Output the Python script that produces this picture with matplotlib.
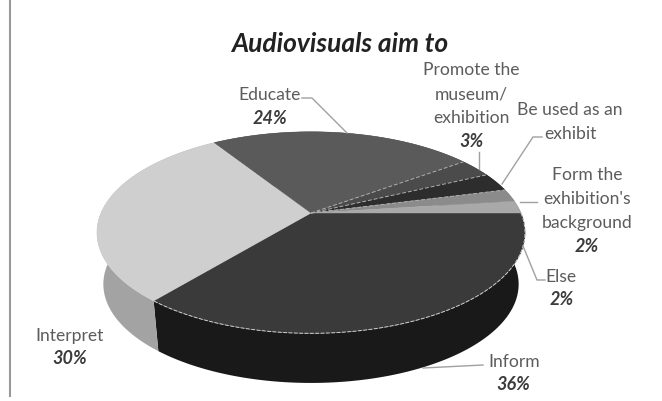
import numpy as np
import matplotlib.pyplot as plt

plt.rcParams['font.family'] = ['Lato', 'DejaVu Sans']

title = 'Audiovisuals aim to'

# clockwise from 3 o'clock
labels = ['Inform', 'Interpret', 'Educate', 'Promote the\nmuseum/\nexhibition', 'Be used as an\nexhibit',
          "Form the\nexhibition's\nbackground", 'Else']
values = [36, 30, 24, 3, 3, 2, 2]
show_pct = [True, True, True, True, False, True, True]

top_colors = ['#3a3a3a', '#cfcfcf', '#5a5a5a', '#4b4b4b', '#2d2d2d', '#8b8b8b', '#a9a9a9']
side_colors = ['#191919', '#a3a3a3', '#3a3a3a', '#333333', '#1e1e1e', '#5e5e5e', '#757575']

# label centre x, first line y, percent x, percent y
label_pos = [(514, 362, 513, 385), (70, 336, 70, 359), (270, 95, 270, 118), (471, 70, 471, 142),
             (570, 110, None, None), (587, 175, 587, 247), (561, 277, 562, 300)]
leaders = [[(423, 369), (483, 366)],
           [],
           [(302, 99), (312, 99), (347, 134)],
           [(479, 153), (479, 170)],
           [(502, 185), (533, 138), (542, 138)],
           [(520, 203), (537, 203)],
           [(523, 247), (537, 281), (545, 281)]]

# pie placement in pixels, the perspective factor k squeezes the far side
cx, cy = 311, 214
rx, ry = 210, 97
k = 0.194
depth = 52
line_gap = 24


def project(t, sx=1.0, sy=1.0):
    x = np.cos(t)
    y = np.sin(t)
    w = 1 + k * y
    return cx + sx * rx * x / w, cy - sy * ry * y / w


fig = plt.figure(figsize=(6.62, 4.02), dpi=100)
ax = fig.add_axes([0, 0, 1, 1])
ax.set_xlim(0, 662)
ax.set_ylim(402, 0)
ax.axis('off')

ax.plot([10, 10], [0, 397], color='#999999', lw=1.5)

edges = np.radians(-np.cumsum([0] + values) * 3.6)

# sides first, the top face covers the back part of them
for i in range(len(values)):
    t = np.linspace(edges[i], edges[i + 1], 120)
    x, y = project(t)
    x2, y2 = project(t, 0.97, 0.98)
    ax.fill(np.r_[x, x2[::-1]], np.r_[y, y2[::-1] + depth], color=side_colors[i], lw=0, zorder=2)

for i in range(len(values)):
    t = np.linspace(edges[i], edges[i + 1], 120)
    x, y = project(t)
    ax.fill(np.r_[cx, x], np.r_[cy, y], color=top_colors[i], lw=0.3, ec=top_colors[i], zorder=3)

# dashed light edges in the dark slices
x, y = project(np.linspace(edges[0], edges[1], 200))
ax.plot(x, y, color='#d0d0d0', lw=0.7, ls=(0, (4, 1.5)), zorder=4)
for i in [3, 4, 5]:
    x, y = project(edges[i])
    ax.plot([cx, x], [cy, y], color='#b0b0b0', lw=0.7, ls=(0, (4, 2)), zorder=4)

for pts in leaders:
    if pts:
        ax.plot(*zip(*pts), color='#a0a0a0', lw=1, zorder=5)

for i in range(len(values)):
    lx, ly, px, py = label_pos[i]
    for j, line in enumerate(labels[i].split('\n')):
        ax.text(lx, ly + j * line_gap, line, ha='center', va='center',
                fontsize=12.6, color='#5c5c5c', zorder=6)
    if show_pct[i]:
        ax.text(px, py, f'{values[i]}%', ha='center', va='center', fontsize=13,
                fontweight='bold', fontstyle='italic', color='#3c3c3c', zorder=6)

ax.text(340, 44, title, ha='center', va='center', fontsize=19, fontweight='bold',
        fontstyle='italic', color='#222222')

fig.savefig('out.png', dpi=100)
